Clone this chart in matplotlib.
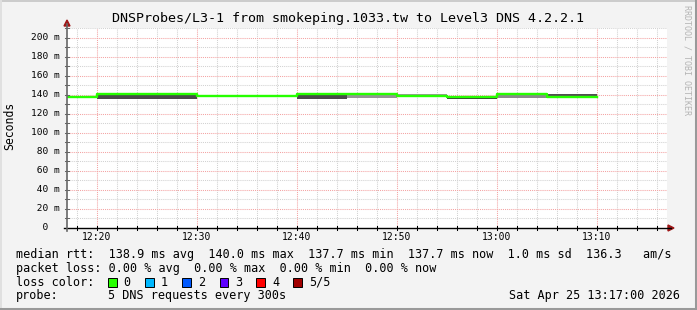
import numpy as np
import matplotlib
matplotlib.use("Agg")
import matplotlib.pyplot as plt
from matplotlib.lines import Line2D
from matplotlib.patches import Polygon, Rectangle

# Data: 5 minute slots, minutes after 12:00
slot_start = [15, 20, 25, 30, 35, 40, 45, 50, 55, 60, 65]
median_ms = [137.9, 140.2, 140.2, 138.3, 138.3, 140.2, 140.2, 138.1, 137.8, 140.2, 137.7]
smoke_lo = [136.5, 135.9, 135.9, 137.2, 137.2, 135.9, 136.6, 138.0, 135.8, 136.9, 137.6]
smoke_hi = [138.0, 139.2, 139.2, 138.6, 138.6, 139.2, 139.2, 141.0, 137.6, 139.2, 140.6]
smoke_shade = ['#4a4a4a', '#4a4a4a', '#4a4a4a', '#4a4a4a', '#4a4a4a', '#4a4a4a',
               '#959595', '#9a9a9a', '#3a3a3a', '#8a8a8a', '#505050']

x_major = [20, 30, 40, 50, 60, 70]
x_labels = ['12:20', '12:30', '12:40', '12:50', '13:00', '13:10']
y_major = [0, 20, 40, 60, 80, 100, 120, 140, 160, 180, 200]

loss_labels = ['0', '1', '2', '3', '4', '5/5']
loss_colors = ['#26ff00', '#00b8ff', '#0059ff', '#5e00ff', '#ff0000', '#a10000']

title = 'DNSProbes/L3-1 from smokeping.1033.tw to Level3 DNS 4.2.2.1'
legend_rtt = ('median rtt:  138.9 ms avg  140.0 ms max  137.7 ms min  '
              '137.7 ms now  1.0 ms sd  136.3   am/s')
legend_loss = 'packet loss: 0.00 % avg  0.00 % max  0.00 % min  0.00 % now'
probe_text = '5 DNS requests every 300s'
stamp = 'Sat Apr 25 13:17:00 2026'

W, H = 697, 310
MONO = 'DejaVu Sans Mono'

fig = plt.figure(figsize=(W / 100, H / 100), dpi=100)
fig.patch.set_facecolor('#f3f3f3')


# helpers working in image pixels (origin top left)
def fx(x):
    return x / W


def fy(y):
    return 1 - y / H


def ftext(x, y, s, **kw):
    kw.setdefault('family', MONO)
    kw.setdefault('va', 'center')
    fig.text(fx(x), fy(y), s, **kw)


def fline(xs, ys, **kw):
    fig.add_artist(Line2D([fx(v) for v in xs], [fy(v) for v in ys],
                          transform=fig.transFigure, **kw))


# plot canvas: 67..667 px wide, 28..228 px tall
ax = fig.add_axes([fx(67), fy(228), 600 / W, 200 / H])
ax.set_facecolor('white')
ax.set_xlim(17, 77)
ax.set_ylim(0, 210)
for s in ax.spines.values():
    s.set_visible(False)
ax.set_xticks([])
ax.set_yticks([])

# grid
dot = (0, (1, 1))
for m in np.arange(18, 77, 2):
    if m % 10 == 0:
        continue
    ax.axvline(m, color='#d2d2d2', lw=0.75, ls=dot, zorder=0)
for v in np.arange(10, 211, 20):
    ax.axhline(v, color='#d2d2d2', lw=0.75, ls=dot, zorder=0)
for m in x_major:
    ax.axvline(m, color='#f4a3a3', lw=0.75, ls=dot, zorder=1)
for v in y_major[1:]:
    ax.axhline(v, color='#f4a3a3', lw=0.75, ls=dot, zorder=1)

# smoke
for s, lo, hi, c in zip(slot_start, smoke_lo, smoke_hi, smoke_shade):
    ax.fill_between([max(s, 17), s + 5], lo, hi, color=c, lw=0, zorder=2)

# median line (no loss -> green)
xs = slot_start + [slot_start[-1] + 5]
ys = median_ms + [median_ms[-1]]
ax.step(xs, ys, where='post', color=loss_colors[0], lw=1.7, zorder=3)

# axes lines, ticks and arrows
fline([64, 671], [228, 228], color='black', lw=1.0)
fline([67, 67], [231, 24], color='#666666', lw=1.2)
for m in np.arange(18, 77, 2):
    px = 67 + (m - 17) * 10
    fline([px, px], [226, 230], color='black', lw=0.75)
for v in np.arange(10, 211, 10):
    py = 228 - v * 200 / 210
    fline([65, 69], [py, py], color='#666666', lw=0.75)
fig.add_artist(Polygon([[fx(668), fy(225)], [fx(674), fy(228)], [fx(668), fy(231)]],
                       closed=True, transform=fig.transFigure, color='#a01818'))
fig.add_artist(Polygon([[fx(64), fy(26)], [fx(67), fy(20)], [fx(70), fy(26)]],
                       closed=True, transform=fig.transFigure, color='#a01818'))

# tick labels
for m, lab in zip(x_major, x_labels):
    ftext(67 + (m - 17) * 10, 237, lab, size=7, ha='center')
for v in y_major:
    lab = f'{v:3d} m' if v else '  0  '
    ftext(30.7, 228 - v * 200 / 210, lab, size=6.8, ha='left')

# title and side texts
ftext(348.5, 18.5, title, size=9.6, ha='center')
ftext(10, 126, 'Seconds', size=8.3, ha='center', rotation=90)
ftext(687.5, 60, 'RRDTOOL / TOBI OETIKER', size=6, ha='center',
      rotation=270, color='#b4b4b4')

# legend
ftext(16, 254.3, legend_rtt, size=8.5, ha='left')
ftext(16, 268.3, legend_loss, size=8.5, ha='left')
ftext(16, 282.3, 'loss color:', size=8.5, ha='left')
box_x = [108, 145.3, 182.2, 219.6, 256.4, 293.3]
for bx, lab, c in zip(box_x, loss_labels, loss_colors):
    fig.add_artist(Rectangle((fx(bx), fy(286.8)), 8.5 / W, 9 / H,
                             transform=fig.transFigure, facecolor=c,
                             edgecolor='black', lw=0.7))
    ftext(bx + 15.5, 282.3, lab, size=8.5, ha='left')
ftext(16, 296, 'probe:', size=8.5, ha='left')
ftext(107.6, 296, probe_text, size=8.5, ha='left')
ftext(680, 296, stamp, size=8.5, ha='right')

# image border
fline([0, W], [0.5, 0.5], color='#cbcbcb', lw=1.4)
fline([0.5, 0.5], [0, H], color='#e0e0e0', lw=1.4)
fline([0, W], [H - 1, H - 1], color='#999999', lw=2.2)
fline([W - 1, W - 1], [0, H], color='#999999', lw=2.2)

fig.savefig('out.png', dpi=100, facecolor=fig.get_facecolor())
